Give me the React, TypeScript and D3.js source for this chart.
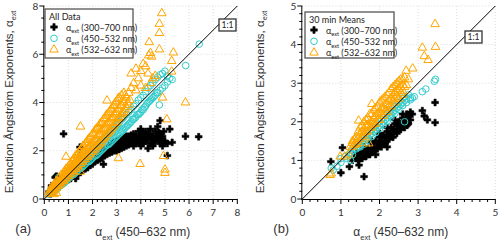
import React from "react";
import * as d3 from "d3";

type Pt = [number, number];

const ORANGE = "#ffa500";
const CYAN = "#33cccc";
const BLACK = "#000000";

const WAVE_LABELS = ["(300–700 nm)", "(450–532 nm)", "(532–632 nm)"];

// (a) all data
const blackA: Pt[] = [
  [0.2, 0.3], [0.25, 0.2], [0.3, 0.3], [0.3, 0.45], [0.3, 0.55], [0.4, 0.4], [0.4, 0.55], [0.45, 0.9],
  [0.5, 0.45], [0.5, 0.6], [0.5, 0.95], [0.6, 0.5], [0.6, 0.65], [0.6, 0.9], [0.7, 0.6], [0.7, 0.75],
  [0.8, 0.65], [0.8, 0.8], [0.9, 0.75], [0.9, 0.9], [1.0, 0.8], [1.0, 0.95], [1.1, 0.85], [1.1, 1.0],
  [1.2, 0.95], [1.2, 1.1], [1.3, 0.85], [1.3, 1.0], [1.3, 1.15], [1.4, 1.05], [1.4, 1.25], [1.5, 1.1],
  [1.5, 1.3], [1.5, 1.8], [1.6, 1.2], [1.6, 1.4], [1.7, 1.25], [1.7, 1.45], [1.8, 1.3], [1.8, 1.55],
  [1.9, 1.4], [1.9, 1.6], [2.0, 1.45], [2.0, 1.7], [2.1, 1.55], [2.1, 1.75], [2.2, 1.6], [2.2, 1.85],
  [2.3, 1.65], [2.3, 1.95], [2.4, 1.7], [2.4, 2.0], [2.45, 1.44], [2.5, 1.8], [2.5, 2.05], [2.6, 1.85],
  [2.6, 2.1], [2.7, 1.9], [2.7, 2.2], [2.8, 1.95], [2.8, 2.3], [2.9, 2.0], [2.9, 2.35], [3.0, 2.0],
  [3.0, 2.4], [3.1, 2.05], [3.1, 2.45], [3.2, 2.1], [3.2, 2.5], [3.3, 2.15], [3.3, 2.55], [3.4, 2.2],
  [3.4, 2.6], [3.5, 2.25], [3.5, 2.6], [3.6, 2.3], [3.6, 2.65], [3.7, 2.2], [3.7, 2.7], [3.8, 2.3],
  [3.8, 2.6], [3.9, 2.4], [3.9, 2.8], [4.0, 2.2], [4.0, 2.5], [4.0, 2.9], [4.1, 2.3], [4.1, 2.7],
  [4.2, 2.4], [4.2, 2.8], [4.3, 2.1], [4.3, 2.5], [4.4, 2.3], [4.4, 2.9], [4.5, 2.2], [4.5, 2.6],
  [4.6, 2.4], [4.6, 2.8], [4.7, 2.5], [4.7, 3.0], [4.8, 2.3], [4.8, 2.7], [4.8, 3.25], [4.9, 2.2],
  [4.9, 2.6], [5.0, 2.4], [5.1, 1.8], [5.1, 2.3], [5.2, 2.9], [5.3, 2.35], [5.85, 2.6], [6.4, 2.58],
  [0.8, 2.7], [1.48, 2.15],
];
const blackAcore: Pt[] = [
  [0.35, 0.35], [0.45, 0.45], [0.55, 0.5], [0.65, 0.6], [0.75, 0.65], [0.85, 0.7], [0.95, 0.8],
  [1.05, 0.85], [1.15, 0.95], [1.25, 1.0], [1.35, 1.1], [1.45, 1.15], [1.55, 1.2], [1.65, 1.3],
  [1.75, 1.35], [1.85, 1.45], [1.95, 1.55], [2.05, 1.6], [2.15, 1.7], [2.25, 1.75], [2.35, 1.8],
  [2.45, 1.85], [2.55, 1.95], [2.65, 2.0], [2.75, 2.05], [2.85, 2.15], [2.95, 2.2], [3.05, 2.25],
  [3.15, 2.3], [3.25, 2.35], [3.35, 2.4], [3.45, 2.45], [3.55, 2.45], [3.65, 2.5], [3.75, 2.45],
  [3.85, 2.5], [3.95, 2.6], [4.05, 2.7], [4.15, 2.5], [4.25, 2.6], [4.35, 2.7], [4.45, 2.5],
  [4.55, 2.4], [4.65, 2.6], [4.75, 2.75], [4.85, 2.5], [4.95, 2.8],
];

const cyanA: Pt[] = [
  [0.2, 0.2], [0.3, 0.25], [0.3, 0.35], [0.4, 0.3], [0.4, 0.45], [0.5, 0.4], [0.5, 0.55], [0.6, 0.5],
  [0.6, 0.65], [0.6, 0.9], [0.7, 0.6], [0.7, 0.75], [0.8, 0.65], [0.8, 0.85], [0.9, 0.75], [0.9, 0.95],
  [1.0, 0.85], [1.0, 1.05], [1.0, 1.3], [1.1, 0.95], [1.1, 1.15], [1.2, 1.0], [1.2, 1.25], [1.2, 1.6],
  [1.3, 1.1], [1.3, 1.35], [1.4, 1.2], [1.4, 1.45], [1.5, 1.3], [1.5, 1.55], [1.5, 1.85], [1.6, 1.35],
  [1.6, 1.65], [1.7, 1.45], [1.7, 1.75], [1.8, 1.55], [1.8, 1.85], [1.9, 1.6], [1.9, 1.95], [2.0, 1.7],
  [2.0, 2.05], [2.1, 1.8], [2.1, 2.15], [2.2, 1.85], [2.2, 2.25], [2.3, 1.95], [2.3, 2.35], [2.4, 2.05],
  [2.4, 2.45], [2.5, 2.15], [2.5, 2.55], [2.6, 2.25], [2.6, 2.65], [2.7, 2.3], [2.7, 2.75], [2.8, 2.4],
  [2.8, 2.85], [2.9, 2.5], [2.9, 2.95], [3.0, 2.6], [3.0, 3.05], [3.1, 2.7], [3.1, 3.15], [3.2, 2.8],
  [3.2, 3.3], [3.3, 2.9], [3.3, 3.4], [3.4, 3.0], [3.4, 3.5], [3.5, 3.1], [3.5, 3.6], [3.6, 3.2],
  [3.6, 3.7], [3.7, 3.3], [3.7, 3.85], [3.8, 3.4], [3.8, 3.95], [3.9, 3.5], [3.9, 4.1], [4.0, 3.6],
  [4.0, 4.2], [4.1, 3.7], [4.1, 4.3], [4.2, 3.85], [4.2, 4.45], [4.3, 4.0], [4.3, 4.6], [4.4, 4.1],
  [4.4, 4.7], [4.5, 4.2], [4.5, 4.8], [4.6, 4.3], [4.6, 4.95], [4.7, 4.4], [4.7, 5.05], [4.77, 3.9],
  [4.8, 4.5], [4.8, 5.15], [4.9, 4.6], [4.9, 5.2], [5.0, 4.7], [5.0, 5.3], [5.1, 4.85], [5.1, 5.1],
  [5.2, 5.0], [5.3, 4.95], [5.86, 5.53], [6.42, 6.42],
];
const cyanAcore: Pt[] = [
  [0.25, 0.25], [0.35, 0.3], [0.45, 0.4], [0.55, 0.45], [0.55, 0.6], [0.65, 0.55], [0.65, 0.7],
  [0.75, 0.65], [0.75, 0.8], [0.85, 0.7], [0.85, 0.9], [0.95, 0.8], [0.95, 1.0], [1.05, 0.9],
  [1.05, 1.1], [1.15, 1.0], [1.15, 1.2], [1.25, 1.05], [1.25, 1.3], [1.35, 1.15], [1.35, 1.4],
  [1.45, 1.25], [1.45, 1.5], [1.55, 1.3], [1.55, 1.6], [1.65, 1.4], [1.65, 1.7], [1.75, 1.5],
  [1.75, 1.8], [1.85, 1.55], [1.85, 1.9], [1.95, 1.65], [1.95, 2.0], [2.05, 1.75], [2.05, 2.1],
  [2.15, 1.8], [2.15, 2.2], [2.25, 1.9], [2.25, 2.3], [2.35, 2.0], [2.35, 2.4], [2.45, 2.1],
  [2.45, 2.5], [2.55, 2.2], [2.55, 2.6], [2.65, 2.25], [2.65, 2.7], [2.75, 2.35], [2.75, 2.8],
  [2.85, 2.45], [2.85, 2.9], [2.95, 2.55], [2.95, 3.0], [3.05, 2.65], [3.05, 3.1], [3.15, 2.75],
  [3.25, 2.85], [3.25, 3.35], [3.35, 2.95], [3.45, 3.05], [3.55, 3.15], [3.65, 3.3], [3.75, 3.35],
  [3.85, 3.5], [3.95, 3.55], [4.05, 3.7], [4.15, 3.8], [4.25, 3.95], [4.35, 4.05], [4.45, 4.15],
  [4.55, 4.25], [4.65, 4.4],
];

const orangeA: Pt[] = [
  [0.2, 0.2], [0.2, 0.3], [0.3, 0.25], [0.3, 0.4], [0.3, 0.5], [0.4, 0.35], [0.4, 0.5], [0.4, 0.6],
  [0.5, 0.45], [0.5, 0.6], [0.5, 0.75], [0.6, 0.55], [0.6, 0.7], [0.6, 0.85], [0.7, 0.65], [0.7, 0.8],
  [0.7, 1.0], [0.8, 0.75], [0.8, 0.95], [0.8, 1.1], [0.9, 0.85], [0.9, 1.05], [0.9, 1.25], [1.0, 0.95],
  [1.0, 1.15], [1.0, 1.35], [1.1, 1.05], [1.1, 1.3], [1.1, 1.5], [1.2, 1.15], [1.2, 1.4], [1.2, 1.65],
  [1.3, 1.25], [1.3, 1.55], [1.3, 1.8], [1.4, 1.35], [1.4, 1.65], [1.4, 1.9], [1.5, 1.45], [1.5, 1.75],
  [1.5, 2.05], [1.6, 1.55], [1.6, 1.9], [1.6, 2.2], [1.7, 1.65], [1.7, 2.0], [1.7, 2.3], [1.8, 1.75],
  [1.8, 2.1], [1.8, 2.45], [1.9, 1.85], [1.9, 2.2], [1.9, 2.55], [2.0, 1.95], [2.0, 2.35], [2.0, 2.7],
  [2.1, 2.05], [2.1, 2.45], [2.1, 2.85], [2.2, 2.2], [2.2, 2.6], [2.2, 2.95], [2.3, 2.3], [2.3, 2.7],
  [2.3, 3.1], [2.4, 2.45], [2.4, 2.85], [2.4, 3.2], [2.5, 2.55], [2.5, 2.95], [2.5, 3.35], [2.6, 2.7],
  [2.6, 3.1], [2.6, 3.5], [2.7, 2.8], [2.7, 3.2], [2.7, 3.6], [2.8, 2.95], [2.8, 3.35], [2.8, 3.75],
  [2.9, 3.05], [2.9, 3.5], [2.9, 3.9], [3.0, 3.2], [3.0, 3.6], [3.0, 4.05], [3.1, 3.35], [3.1, 3.75],
  [3.1, 4.2], [3.2, 3.5], [3.2, 3.9], [3.2, 4.3], [3.3, 3.6], [3.3, 4.0], [3.3, 4.4], [3.4, 3.8],
  [3.4, 4.2], [3.5, 3.9], [3.5, 4.4], [3.6, 4.6], [3.6, 5.2], [3.7, 4.8], [3.8, 4.5], [3.8, 5.4],
  [3.9, 5.0], [4.0, 4.7], [4.0, 5.3], [4.1, 5.6], [4.2, 4.6], [4.2, 5.5], [4.3, 5.2], [4.33, 5.95],
  [4.35, 6.5], [4.4, 4.8], [4.4, 6.05], [4.45, 5.9], [4.5, 5.0], [4.6, 5.1], [4.77, 6.2], [4.77, 6.88],
  [4.77, 7.26], [4.87, 7.7], [4.9, 4.2], [5.08, 3.3], [5.28, 5.28], [5.28, 5.72], [5.35, 6.07],
  [5.85, 4.0], [2.6, 4.08], [1.5, 3.0], [0.9, 1.75], [1.48, 1.13], [3.07, 1.69], [3.97, 1.45],
  [4.94, 1.78], [5.0, 1.22], [5.0, 1.08], [0.4, 0.2], [0.5, 0.25],
];
const orangeAcore: Pt[] = [
  [0.25, 0.3], [0.35, 0.35], [0.35, 0.45], [0.45, 0.45], [0.45, 0.55], [0.55, 0.55], [0.55, 0.7],
  [0.65, 0.65], [0.65, 0.8], [0.75, 0.75], [0.75, 0.9], [0.85, 0.85], [0.85, 1.0], [0.85, 1.15],
  [0.95, 0.95], [0.95, 1.1], [0.95, 1.25], [1.05, 1.05], [1.05, 1.2], [1.05, 1.4], [1.15, 1.15],
  [1.15, 1.35], [1.15, 1.55], [1.25, 1.25], [1.25, 1.45], [1.25, 1.7], [1.35, 1.35], [1.35, 1.6],
  [1.35, 1.8], [1.45, 1.45], [1.45, 1.7], [1.45, 1.95], [1.55, 1.55], [1.55, 1.8], [1.55, 2.1],
  [1.65, 1.65], [1.65, 1.95], [1.65, 2.2], [1.75, 1.75], [1.75, 2.05], [1.75, 2.35], [1.85, 1.85],
  [1.85, 2.15], [1.85, 2.5], [1.95, 1.95], [1.95, 2.3], [1.95, 2.6], [2.05, 2.05], [2.05, 2.4],
  [2.05, 2.75], [2.15, 2.15], [2.15, 2.5], [2.15, 2.9], [2.25, 2.25], [2.25, 2.65], [2.25, 3.0],
  [2.35, 2.35], [2.35, 2.8], [2.35, 3.15], [2.45, 2.5], [2.45, 2.9], [2.45, 3.3], [2.55, 2.6],
  [2.55, 3.05], [2.55, 3.45], [2.65, 2.75], [2.65, 3.15], [2.65, 3.55], [2.75, 2.85], [2.75, 3.3],
  [2.75, 3.7], [2.85, 3.0], [2.85, 3.4], [2.85, 3.85], [2.95, 3.15], [2.95, 3.55], [2.95, 4.0],
  [3.05, 3.3], [3.05, 3.7], [3.05, 4.15], [3.15, 3.4], [3.15, 3.85], [3.25, 3.55], [3.25, 4.1],
  [3.35, 3.7], [3.35, 4.3], [3.45, 4.0], [3.55, 4.1],
];

// (b) 30 min means
const blackB: Pt[] = [
  [0.74, 0.97], [1.0, 0.68], [1.22, 0.84], [1.04, 1.33], [1.6, 0.58], [1.47, 0.88], [1.76, 1.2],
  [1.3, 1.0], [1.35, 1.1], [1.4, 1.05], [1.4, 1.2], [1.45, 1.1], [1.5, 1.05], [1.5, 1.2], [1.55, 1.15],
  [1.6, 1.1], [1.6, 1.25], [1.65, 1.2], [1.7, 1.15], [1.7, 1.3], [1.75, 1.25], [1.8, 1.3], [1.8, 1.45],
  [1.85, 1.35], [1.9, 1.3], [1.9, 1.5], [1.95, 1.45], [2.0, 1.4], [2.0, 1.6], [2.05, 1.5], [2.1, 1.45],
  [2.1, 1.65], [2.15, 1.6], [2.2, 1.55], [2.2, 1.75], [2.25, 1.7], [2.3, 1.65], [2.3, 1.85], [2.35, 1.8],
  [2.4, 1.75], [2.4, 1.95], [2.45, 1.9], [2.5, 1.8], [2.5, 2.0], [2.55, 1.95], [2.6, 1.9], [2.6, 2.1],
  [2.65, 2.05], [2.7, 2.0], [2.7, 2.2], [2.72, 1.92], [2.75, 2.15], [2.8, 2.05], [2.85, 2.2],
  [2.2, 1.35], [1.9, 1.15], [3.11, 2.29], [3.16, 2.15], [3.24, 2.05], [3.44, 2.5], [3.44, 1.98],
  [1.45, 1.0], [1.55, 1.05], [1.65, 1.1], [1.75, 1.15], [1.85, 1.25], [1.95, 1.3], [2.05, 1.35],
  [2.15, 1.45], [2.25, 1.55], [2.35, 1.6], [2.45, 1.7], [2.55, 1.8], [2.65, 1.85], [2.75, 1.95],
  [1.6, 1.35], [1.8, 1.5], [2.0, 1.7], [2.2, 1.85], [2.4, 2.05], [2.6, 2.2], [2.8, 2.25],
];

const cyanB: Pt[] = [
  [0.75, 0.8], [0.8, 0.75], [0.9, 0.85], [1.0, 0.95], [1.0, 1.05], [1.1, 1.1], [1.15, 1.05], [1.2, 1.15],
  [1.25, 1.2], [1.3, 1.25], [1.35, 1.3], [1.4, 1.3], [1.4, 1.4], [1.45, 1.35], [1.5, 1.4], [1.5, 1.5],
  [1.55, 1.45], [1.6, 1.5], [1.6, 1.6], [1.65, 1.55], [1.7, 1.6], [1.7, 1.7], [1.75, 1.65], [1.8, 1.7],
  [1.8, 1.8], [1.85, 1.75], [1.9, 1.8], [1.9, 1.9], [1.95, 1.85], [2.0, 1.9], [2.0, 2.0], [2.05, 1.95],
  [2.1, 2.0], [2.1, 2.1], [2.15, 2.05], [2.2, 2.1], [2.2, 2.2], [2.25, 2.15], [2.3, 2.2], [2.3, 2.3],
  [2.35, 2.25], [2.4, 2.3], [2.4, 2.4], [2.45, 2.35], [2.5, 2.4], [2.5, 2.5], [2.55, 2.45], [2.6, 2.5],
  [2.6, 2.6], [2.65, 2.55], [2.7, 2.6], [2.75, 2.7], [2.8, 2.57], [2.85, 2.62], [2.9, 2.65],
  [3.11, 2.78], [3.2, 2.85], [3.42, 3.05], [3.45, 3.1], [2.65, 2.0], [1.25, 1.0],
  [1.3, 1.15], [1.5, 1.35], [1.7, 1.52], [1.9, 1.72], [2.1, 1.92], [2.3, 2.12], [2.5, 2.32],
  [2.7, 2.5], [1.6, 1.42], [1.8, 1.62], [2.0, 1.82], [2.2, 2.02], [2.4, 2.22], [2.6, 2.42],
  [2.8, 2.62], [1.45, 1.45], [1.65, 1.65], [1.85, 1.85], [2.05, 2.05], [2.25, 2.25], [2.45, 2.45],
  [2.65, 2.65],
];

const orangeB: Pt[] = [
  [0.72, 0.62], [0.75, 0.66], [0.98, 1.1], [1.1, 1.1], [1.2, 1.15], [1.24, 1.35], [1.3, 1.35], [1.3, 1.45],
  [1.35, 1.4], [1.4, 1.5], [1.4, 1.6], [1.45, 1.45], [1.46, 2.03], [1.5, 1.55], [1.5, 1.7], [1.5, 1.85],
  [1.55, 1.6], [1.6, 1.65], [1.6, 1.8], [1.6, 2.0], [1.65, 1.75], [1.7, 1.75], [1.7, 1.9], [1.7, 2.1],
  [1.72, 1.44], [1.75, 1.85], [1.8, 1.85], [1.8, 2.0], [1.8, 2.2], [1.8, 2.46], [1.85, 1.95], [1.9, 1.95],
  [1.9, 2.15], [1.9, 2.35], [1.95, 2.05], [2.0, 2.05], [2.0, 2.25], [2.0, 2.5], [2.05, 2.2], [2.1, 2.15],
  [2.1, 2.35], [2.1, 2.6], [2.15, 2.3], [2.2, 2.25], [2.2, 2.45], [2.2, 2.7], [2.25, 2.4], [2.3, 2.4],
  [2.3, 2.6], [2.3, 2.85], [2.35, 2.55], [2.4, 2.5], [2.4, 2.75], [2.4, 2.95], [2.45, 2.65], [2.5, 2.6],
  [2.5, 2.85], [2.5, 3.05], [2.55, 2.75], [2.6, 2.7], [2.6, 2.95], [2.6, 3.1], [2.65, 3.15], [2.69, 3.32],
  [2.7, 2.95], [2.75, 3.1], [2.86, 3.38], [3.11, 3.92], [3.16, 3.7], [3.26, 3.6], [3.44, 4.53], [3.45, 3.94],
  [1.35, 1.55], [1.45, 1.6], [1.45, 1.75], [1.55, 1.75], [1.55, 1.9], [1.65, 1.9], [1.65, 2.05],
  [1.75, 2.0], [1.75, 2.2], [1.85, 2.1], [1.85, 2.3], [1.95, 2.2], [1.95, 2.4], [2.05, 2.35],
  [2.05, 2.55], [2.15, 2.45], [2.15, 2.65], [2.25, 2.55], [2.25, 2.75], [2.35, 2.7], [2.35, 2.9],
  [2.45, 2.8], [2.45, 3.0], [2.55, 2.9], [2.55, 3.1], [2.65, 2.9], [1.3, 1.5], [1.4, 1.42],
  [1.6, 1.72], [1.8, 1.92], [2.0, 2.15], [2.2, 2.35], [2.4, 2.6], [2.6, 2.8],
];

const PLOT_TOP = 6;
const PLOT_BOTTOM = 199;
const PLOT_W = 193;

function Alpha({ rest, size }: { rest: string; size: number }) {
  return (
    <>
      <tspan>α</tspan>
      <tspan dy={size * 0.3} fontSize={size * 0.62}>ext</tspan>
      <tspan dy={-size * 0.3}>{rest}</tspan>
    </>
  );
}

interface PanelProps {
  left: number;
  max: number;
  yMajor: number;
  yMinor: number;
  title: string;
  letter: string;
  legend: { x: number; y: number; w: number; h: number };
  ratio: { x: number; y: number };
  series: { pts: Pt[]; kind: "cross" | "circle" | "tri"; color: string }[];
  ytitleX: number;
}

function Marker({ kind, color, x, y }: { kind: string; color: string; x: number; y: number }) {
  if (kind === "circle")
    return <circle cx={x} cy={y} r={3.3} fill="none" stroke={color} strokeWidth={1} />;
  const sym = kind === "cross" ? d3.symbolCross : d3.symbolTriangle;
  const size = kind === "cross" ? 26 : 32;
  return (
    <path
      d={d3.symbol(sym, size)() ?? ""}
      transform={`translate(${x},${y})`}
      fill={kind === "cross" ? color : "none"}
      stroke={color}
      strokeWidth={kind === "cross" ? 0.5 : 1}
    />
  );
}

function Panel(p: PanelProps) {
  const x = d3.scaleLinear().domain([0, p.max]).range([p.left, p.left + PLOT_W]);
  const y = d3.scaleLinear().domain([0, p.max]).range([PLOT_BOTTOM, PLOT_TOP]);
  const xMajor = d3.range(0, p.max + 0.001, 1);
  const xMinor = d3.range(0, p.max + 0.001, 0.2).filter((v) => Math.abs(v - Math.round(v)) > 0.01);
  const yMaj = d3.range(0, p.max + 0.001, p.yMajor);
  const yMin = d3
    .range(0, p.max + 0.001, p.yMinor)
    .filter((v) => Math.abs(v / p.yMajor - Math.round(v / p.yMajor)) > 0.01);
  const font = "Lato, 'Open Sans', sans-serif";
  const lg = p.legend;

  return (
    <g>
      {/* grid */}
      <g stroke="#d4d4d4" strokeWidth={0.8} strokeDasharray="1,2">
        {xMajor.filter((v) => v > 0).map((v) => (
          <line key={"gx" + v} x1={x(v)} x2={x(v)} y1={PLOT_TOP} y2={PLOT_BOTTOM} />
        ))}
        {yMaj.filter((v) => v > 0).map((v) => (
          <line key={"gy" + v} x1={p.left} x2={p.left + PLOT_W} y1={y(v)} y2={y(v)} />
        ))}
      </g>

      {/* points */}
      {p.series.map((s, i) => (
        <g key={i}>
          {s.pts.map((d, j) => (
            <Marker key={j} kind={s.kind} color={s.color} x={x(d[0])} y={y(d[1])} />
          ))}
        </g>
      ))}

      {/* 1:1 line */}
      <line x1={x(0)} y1={y(0)} x2={x(p.max)} y2={y(p.max)} stroke="#000" strokeWidth={1} />

      {/* axes */}
      <g stroke="#000" strokeWidth={1}>
        <line x1={p.left} x2={p.left + PLOT_W} y1={PLOT_BOTTOM + 0.5} y2={PLOT_BOTTOM + 0.5} />
        <line x1={p.left - 0.5} x2={p.left - 0.5} y1={PLOT_TOP} y2={PLOT_BOTTOM + 1} />
        {xMajor.map((v) => (
          <line key={"xt" + v} x1={x(v)} x2={x(v)} y1={PLOT_BOTTOM} y2={PLOT_BOTTOM + 5} />
        ))}
        {xMinor.map((v) => (
          <line key={"xm" + v} x1={x(v)} x2={x(v)} y1={PLOT_BOTTOM} y2={PLOT_BOTTOM + 3} />
        ))}
        {yMaj.map((v) => (
          <line key={"yt" + v} x1={p.left - 5} x2={p.left} y1={y(v)} y2={y(v)} />
        ))}
        {yMin.map((v) => (
          <line key={"ym" + v} x1={p.left - 3} x2={p.left} y1={y(v)} y2={y(v)} />
        ))}
      </g>
      <g fontFamily={font} fontSize={10} fill="#333">
        {xMajor.map((v) => (
          <text key={"xl" + v} x={x(v)} y={PLOT_BOTTOM + 17} textAnchor="middle">
            {v}
          </text>
        ))}
        {yMaj.map((v) => (
          <text key={"yl" + v} x={p.left - 6} y={y(v) + 3.5} textAnchor="end">
            {v}
          </text>
        ))}
      </g>

      {/* axis titles */}
      <text
        x={p.left + PLOT_W / 2 + 2}
        y={236}
        textAnchor="middle"
        fontFamily="'Liberation Sans', Arial, sans-serif"
        fontSize={12}
        fill="#333"
      >
        <Alpha rest=" (450–632 nm)" size={12} />
      </text>
      <text
        transform={`translate(${p.ytitleX},102) rotate(-90)`}
        textAnchor="middle"
        fontFamily="'Liberation Sans', Arial, sans-serif"
        fontSize={11.5}
        fill="#333"
      >
        <tspan>Extinction Ångström Exponents, </tspan>
        <Alpha rest="" size={11.5} />
      </text>
      <text
        x={p.left - 29}
        y={233}
        fontFamily="'Liberation Sans', Arial, sans-serif"
        fontSize={13}
        fill="#333"
      >
        {p.letter}
      </text>

      {/* legend */}
      <rect x={lg.x} y={lg.y} width={lg.w} height={lg.h} fill="#fff" stroke="#555" strokeWidth={1.3} />
      <text x={lg.x + 4} y={lg.y + 11} fontFamily={font} fontSize={9} fill="#222">
        {p.title}
      </text>
      {p.series.map((s, i) => (
        <g key={"lg" + i}>
          <Marker kind={s.kind} color={s.color} x={lg.x + 9} y={lg.y + 18 + i * 11.3} />
          <text x={lg.x + 21} y={lg.y + 21.5 + i * 11.3} fontFamily={font} fontSize={9} fill="#222">
            <Alpha rest={" " + WAVE_LABELS[i]} size={9} />
          </text>
        </g>
      ))}

      {/* 1:1 label */}
      <rect x={p.ratio.x} y={p.ratio.y} width={17} height={12} fill="#fff" stroke="#333" strokeWidth={1.3} />
      <text
        x={p.ratio.x + 8.5}
        y={p.ratio.y + 9}
        textAnchor="middle"
        fontFamily={font}
        fontSize={8.5}
        fill="#222"
      >
        1:1
      </text>
    </g>
  );
}

export default function App() {
  return (
    <>
      <style>{"body{margin:0}"}</style>
      <svg width={500} height={241} style={{ display: "block", background: "#fff" }}>
        <Panel
          left={44.3}
          max={8}
          yMajor={2}
          yMinor={0.5}
          title="All Data"
          letter="(a)"
          legend={{ x: 45, y: 9, w: 88, h: 49 }}
          ratio={{ x: 219, y: 19 }}
          ytitleX={13}
          series={[
            { pts: [...blackA, ...blackAcore], kind: "cross", color: BLACK },
            { pts: [...cyanA, ...cyanAcore], kind: "circle", color: CYAN },
            { pts: [...orangeA, ...orangeAcore], kind: "tri", color: ORANGE },
          ]}
        />
        <Panel
          left={302.3}
          max={5}
          yMajor={1}
          yMinor={0.2}
          title="30 min Means"
          letter="(b)"
          legend={{ x: 305, y: 12, w: 89, h: 46 }}
          ratio={{ x: 465, y: 31 }}
          ytitleX={264}
          series={[
            { pts: blackB, kind: "cross", color: BLACK },
            { pts: cyanB, kind: "circle", color: CYAN },
            { pts: orangeB, kind: "tri", color: ORANGE },
          ]}
        />
      </svg>
    </>
  );
}
